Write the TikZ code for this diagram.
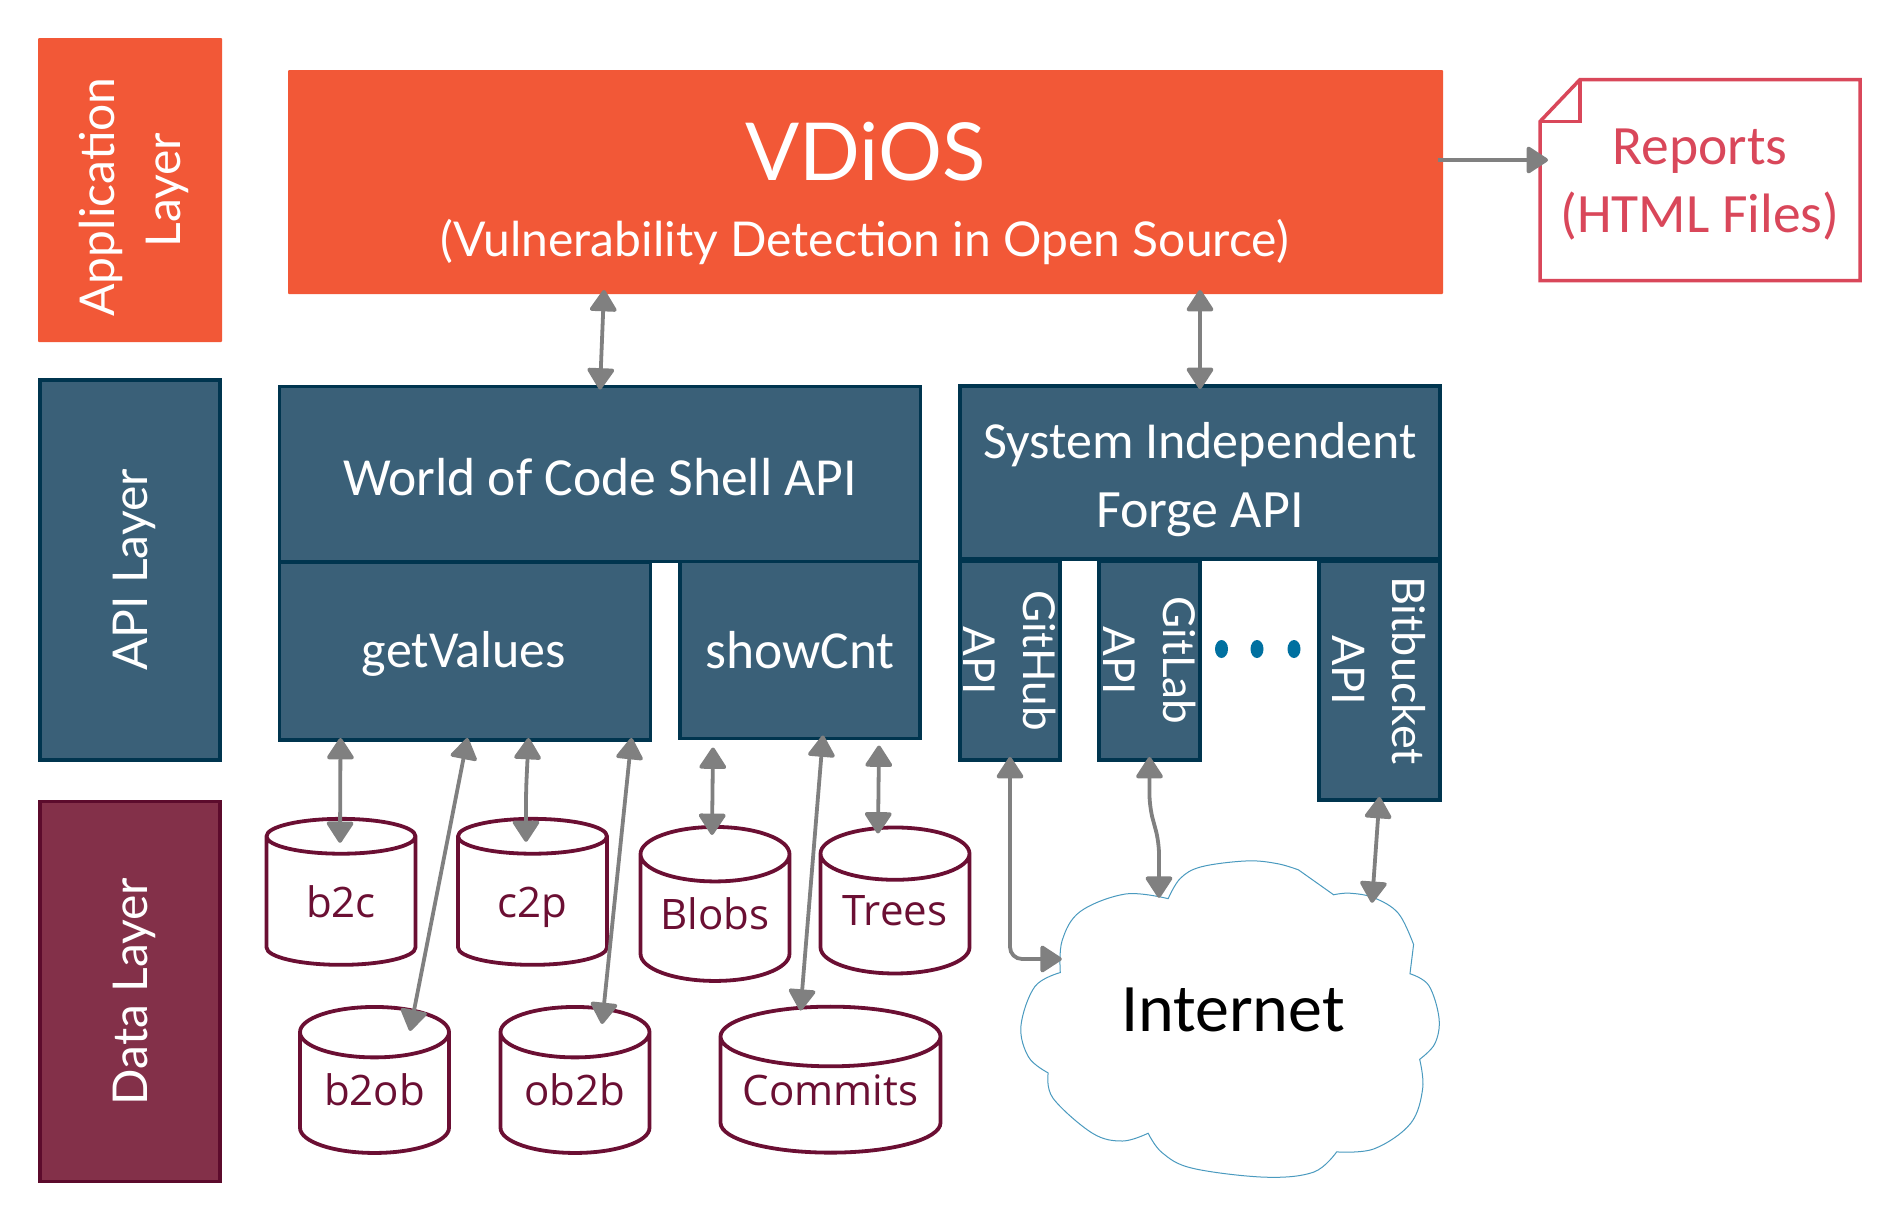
\documentclass[tikz,border=0pt]{standalone}
\usepackage{fontspec}
\setmainfont{Lato}
\newfontfamily\osans{Open Sans}
\newfontfamily\carl{Carlito}
\usetikzlibrary{arrows.meta,shapes.geometric,calc}
\definecolor{orangeF}{HTML}{F25837}
\definecolor{apiF}{HTML}{3A6078}
\definecolor{apiD}{HTML}{00354F}
\definecolor{dataF}{HTML}{833049}
\definecolor{dataD}{HTML}{5C0B2C}
\definecolor{cylD}{HTML}{6B0F33}
\definecolor{repD}{HTML}{D9475A}
\definecolor{dotC}{HTML}{0070A0}
\definecolor{cloudD}{HTML}{4A9ABF}
\definecolor{arrowC}{HTML}{808080}
\tikzset{
 orangebox/.style={rectangle,fill=orangeF,text=white,inner sep=0pt,outer sep=0pt,rounded corners=1pt,align=center},
 apibox/.style={rectangle,draw=apiD,fill=apiF,line width=3.8pt,text=white,inner sep=0pt,outer sep=0pt,align=center},
 databox/.style={rectangle,draw=dataD,fill=dataF,line width=3.8pt,text=white,inner sep=0pt,outer sep=0pt,align=center},
 dbcyl/.style={cylinder,shape border rotate=90,shape aspect=0.5,draw=cylD,fill=white,line width=3.8pt,text=cylD,inner sep=0pt,outer sep=0pt,minimum width=149pt,text height=31pt,text depth=0pt,font=\osans\fontsize{42}{42}\selectfont},
 bi/.style={draw=arrowC,line width=3.8pt,rounded corners=12pt,{Triangle[length=23pt,width=29pt,round]}-{Triangle[length=23pt,width=29pt,round]}},
 uni/.style={draw=arrowC,line width=3.8pt,-{Triangle[length=23pt,width=29pt,round]}},
 dotmark/.style={ellipse,fill=dotC,minimum width=13pt,minimum height=18pt,inner sep=0pt},
 rot/.style={rotate=90,font=\fontsize{48}{66}\selectfont,align=center,text=white},
 sideL/.style={rotate=-90,font=\fontsize{44}{60}\selectfont,align=center,text=white},
 apitext/.style={text=white,inner sep=0pt,align=center,font=\carl\fontsize{54}{69}\selectfont},
}
\begin{document}
\begin{tikzpicture}[x=1pt,y=-1pt]
\useasboundingbox (0,0) rectangle (1900,1221);
% layer labels
\node[orangebox,minimum width=184pt,minimum height=304pt] (applayer) at (130,190) {};
\node[rot] (applabel) at ([xshift=4pt,yshift=-7pt]applayer.center) {Application\\\hspace*{14pt}Layer};
\node[apibox,minimum width=180pt,minimum height=380pt] (apilayer) at (130,570) {};
\node[rot] (apilabel) at ([xshift=4pt]apilayer.center) {API Layer};
\node[databox,minimum width=180pt,minimum height=380pt] (datalayer) at (130,991.5) {};
\node[rot] (datalabel) at ([xshift=4pt]datalayer.center) {Data Layer};
% VDiOS
\node[orangebox,minimum width=1155pt,minimum height=224pt] (vdios) at (865.5,182) {};
\node[text=white,font=\fontsize{80}{80}\selectfont,inner sep=0pt] (vdiostitle) at (865.5,152) {VDiOS};
\node[text=white,font=\fontsize{48}{48}\selectfont,inner sep=0pt] (vdiossub) at (864.5,241.5) {(Vulnerability Detection in Open Source)};
% Reports
\node[inner sep=0pt,minimum width=320pt,minimum height=201pt,outer sep=0pt] (reports) at (1700,180) {};
\draw[draw=repD,line width=3.5pt,fill=white,line join=miter] ([xshift=40pt]reports.north west) -- (reports.north east) -- (reports.south east) -- (reports.south west) -- ([yshift=-42pt]reports.north west) -- cycle;
\draw[draw=repD,line width=3.5pt,line join=miter] ([xshift=40pt]reports.north west) -- ([xshift=40pt,yshift=-42pt]reports.north west) -- ([yshift=-42pt]reports.north west);
\node[text=repD,font=\carl\fontsize{55.5}{68}\selectfont,align=center,inner sep=0pt,yshift=-5pt] (reportstext) at (reports.center) {Reports\\(HTML Files)};
% API boxes
\node[apibox,minimum width=641pt,minimum height=175pt] (woc) at (600,474) {};
\node[apibox,minimum width=371pt,minimum height=178pt] (getvalues) at (465,651) {};
\node[apibox,minimum width=240pt,minimum height=177pt] (showcnt) at (800,650) {};
\node[apibox,minimum width=480pt,minimum height=173pt] (forge) at (1200,472.5) {};
\node[apitext,font=\carl\fontsize{53.6}{69}\selectfont] (woclabel) at (600,477) {World of Code Shell API};
\node[apitext,font=\carl\fontsize{52}{69}\selectfont] (getvalueslabel) at (464,654) {getValues};
\node[apitext,font=\carl\fontsize{53.5}{69}\selectfont] (showcntlabel) at (800,650.5) {showCnt};
\node[apitext] (forgelabel) at (1200,480) {{\fontsize{52}{69}\selectfont System Independent}\\Forge API};
\node[apibox,minimum width=100pt,minimum height=199pt] (github) at (1010,660.5) {};
\node[sideL] (githublabel) at (github.center) {GitHub\\API};
\node[apibox,minimum width=101pt,minimum height=199pt] (gitlab) at (1149.5,660.5) {};
\node[sideL] (gitlablabel) at (gitlab.center) {GitLab\\API};
\node[apibox,minimum width=121pt,minimum height=239pt] (bitbucket) at (1379.5,680.5) {};
\node[sideL,font=\fontsize{45}{60}\selectfont] (bitbucketlabel) at ([yshift=10pt]bitbucket.center) {Bitbucket\\API};
\node[dotmark] (dota) at (1221.5,649) {};
\node[dotmark] (dotb) at (1257,649) {};
\node[dotmark] (dotc) at (1294,649) {};
% Cylinders
\node[dbcyl,minimum height=146pt] (b2c) at (341,901.5) {b2c};
\node[dbcyl,minimum height=146pt] (c2p) at (532.5,901.5) {c2p};
\node[dbcyl,minimum height=154pt,text depth=10pt] (blobs) at (715,918.5) {Blobs};
\node[dbcyl,minimum height=146pt,text depth=10pt] (trees) at (895,914.5) {Trees};
\node[dbcyl,minimum height=146pt,text depth=8pt] (b2ob) at (374.5,1093.5) {b2ob};
\node[dbcyl,minimum height=146pt,text depth=8pt] (ob2b) at (575,1093.5) {ob2b};
\node[dbcyl,shape aspect=0.34,minimum width=220pt,minimum height=146pt,text depth=12pt] (commits) at (830.5,1095.5) {Commits};
% Cloud
\node[inner sep=0pt,minimum width=418pt,minimum height=316pt] (internet) at (1241,1025) {};
\begin{scope}[xshift=950pt,yshift=-610pt,x=0.606pt,y=-0.389pt]
\draw[draw=cloudD,line width=1pt,fill=white]
 plot[smooth,tension=0.6] coordinates {(360,742)(380,690)(415,660)(490,645)(540,652)(575,668)}
 -- plot[smooth,tension=0.6] coordinates {(633,732)(660,728)(700,740)(740,780)(765,860)}
 -- plot[smooth,tension=0.6] coordinates {(759,935)(790,965)(807,1050)(800,1115)(775,1155)}
 -- plot[smooth,tension=0.6] coordinates {(775,1155)(780,1230)(760,1320)(700,1385)(638,1393)}
 -- plot[smooth,tension=0.6] coordinates {(638,1393)(600,1445)(520,1458)(400,1435)(350,1395)(327,1345)}
 -- plot[smooth,tension=0.6] coordinates {(327,1345)(285,1365)(235,1345)(170,1255)(162,1190)}
 -- plot[smooth,tension=0.6] coordinates {(162,1190)(130,1150)(117,1070)(140,968)(182,932)}
 -- plot[smooth,tension=0.6] coordinates {(182,932)(185,850)(215,775)(290,730)(360,742)}
 -- cycle;
\end{scope}
\node[text=black,font=\carl\fontsize{68}{68}\selectfont,inner sep=0pt] (internetlabel) at (1233,1010) {Internet};
% Arrows
\draw[bi] ([xshift=316pt,yshift=4pt]vdios.south west) -- ([yshift=-3pt]woc.north);
\draw[bi] ([xshift=912pt,yshift=4pt]vdios.south west) -- ([yshift=-3pt]forge.north);
\draw[uni] ([xshift=-5pt,yshift=-90pt]vdios.north east) -- ([xshift=8pt,yshift=20pt]reports.west);
\draw[bi] ([xshift=61pt,yshift=2pt]getvalues.south west) -- ([xshift=-1pt,yshift=-24pt]b2c.north);
\draw[bi] ([xshift=188pt,yshift=2pt]getvalues.south west) -- ([xshift=35.5pt,yshift=-24pt]b2ob.north);
\draw[bi] ([xshift=249pt,yshift=2pt]getvalues.south west) -- ([xshift=-6.5pt,yshift=28pt]c2p.north) -- ([xshift=-6.5pt,yshift=-23pt]c2p.north);
\draw[bi] ([xshift=352pt,yshift=2pt]getvalues.south west) -- ([xshift=27pt,yshift=-17pt]ob2b.north);
\draw[bi] ([xshift=33pt,yshift=-9pt]showcnt.south west) -- ([xshift=-3pt,yshift=-8pt]blobs.north);
\draw[bi] ([xshift=143pt,yshift=3pt]showcnt.south west) -- ([xshift=-30pt,yshift=-4pt]commits.north);
\draw[bi] ([xshift=199pt,yshift=-7pt]showcnt.south west) -- ([xshift=-17pt,yshift=-6pt]trees.north);
\draw[bi] ([yshift=3pt]github.south) |- ([xshift=30pt,yshift=66pt]internet.west);
\draw[bi] ([yshift=3pt]gitlab.south) -- ([yshift=-47pt]gitlab.south) -- ([xshift=9.5pt,yshift=-82pt]gitlab.south) -- ([xshift=-82pt,yshift=-31pt]internet.north);
\draw[bi] ([yshift=3pt]bitbucket.south) -- ([xshift=131pt,yshift=-36pt]internet.north);
\end{tikzpicture}
\end{document}
